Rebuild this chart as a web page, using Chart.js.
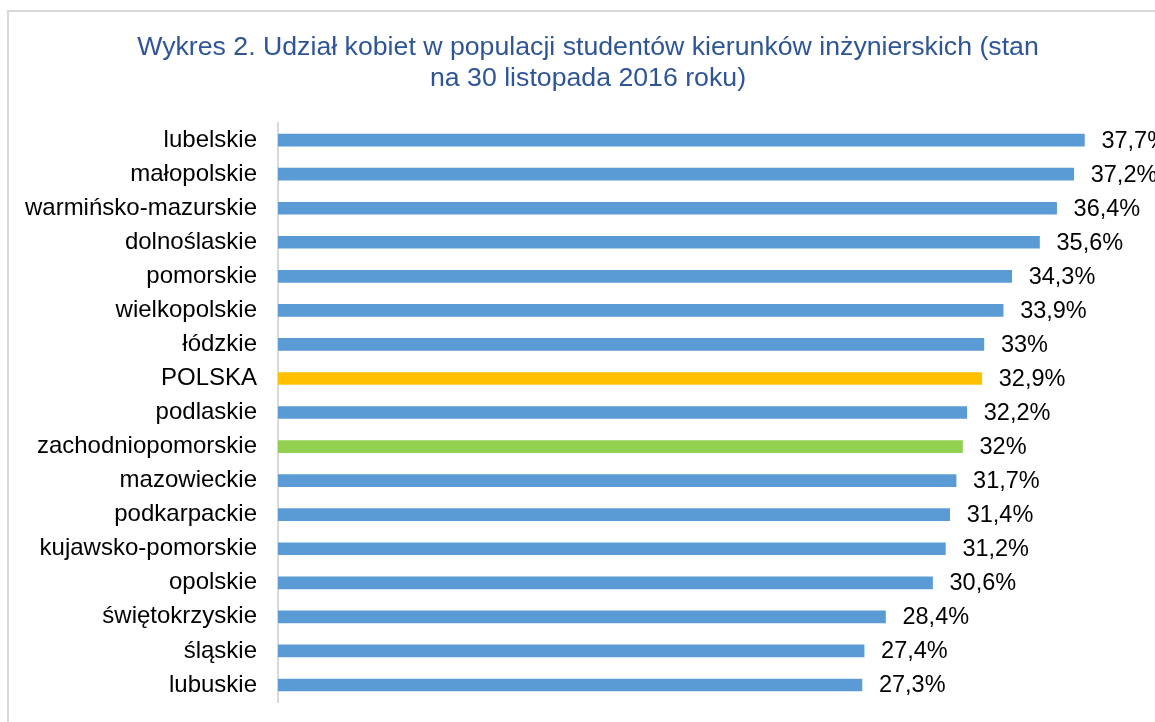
<!DOCTYPE html>
<html>
<head>
<meta charset="utf-8">
<script src="https://cdn.jsdelivr.net/npm/chart.js@4.4.1/dist/chart.umd.min.js"></script>
<style>
  html, body { margin: 0; padding: 0; background: #fff; overflow: hidden; }
  #wrap { position: relative; width: 1155px; height: 722px; }
  #frame { position: absolute; left: 7px; top: 10px; width: 2000px; height: 2000px; border: 2px solid #D9D9D9; box-sizing: border-box; }
  canvas { position: absolute; left: 0; top: 0; }
</style>
</head>
<body>
<div id="wrap">
  <div id="frame"></div>
  <canvas id="c" width="1155" height="722"></canvas>
</div>
<script>
const titleLines = ['Wykres 2. Udział kobiet w populacji studentów kierunków inżynierskich (stan', 'na 30 listopada 2016 roku)'];
const categories = ['lubelskie', 'małopolskie', 'warmińsko-mazurskie', 'dolnoślaskie', 'pomorskie', 'wielkopolskie', 'łódzkie', 'POLSKA', 'podlaskie', 'zachodniopomorskie', 'mazowieckie', 'podkarpackie', 'kujawsko-pomorskie', 'opolskie', 'świętokrzyskie', 'śląskie', 'lubuskie'];
const values = [37.7, 37.2, 36.4, 35.6, 34.3, 33.9, 33, 32.9, 32.2, 32, 31.7, 31.4, 31.2, 30.6, 28.4, 27.4, 27.3];
const colorDefault = '#5B9BD5';
const colorPolska = '#FFC000';
const colorZachodnio = '#92D050';
const barColors = categories.map(c => c === 'POLSKA' ? colorPolska : (c === 'zachodniopomorskie' ? colorZachodnio : colorDefault));

const fmt = v => String(v).replace('.', ',') + '%';

const valueLabels = {
  id: 'valueLabels',
  afterDatasetsDraw(chart) {
    const ctx = chart.ctx;
    const meta = chart.getDatasetMeta(0);
    ctx.save();
    ctx.font = '23.5px "Liberation Sans", Arial, sans-serif';
    ctx.fillStyle = '#000';
    ctx.textAlign = 'left';
    ctx.textBaseline = 'middle';
    meta.data.forEach((bar, i) => {
      ctx.fillText(fmt(values[i]), bar.x + 17, bar.y + 1);
    });
    ctx.restore();
  }
};

new Chart(document.getElementById('c'), {
  type: 'bar',
  data: {
    labels: categories,
    datasets: [{
      data: values,
      backgroundColor: barColors,
      barThickness: 12
    }]
  },
  options: {
    indexAxis: 'y',
    responsive: false,
    animation: false,
    layout: { padding: { top: 0, bottom: 20, right: 0, left: 21 } },
    plugins: {
      legend: { display: false },
      tooltip: { enabled: false },
      title: {
        display: true,
        text: titleLines,
        color: '#2E5597',
        font: { family: '"Liberation Sans", Arial, sans-serif', size: 26.7, weight: 'normal', lineHeight: 1.17 },
        padding: { top: 32, bottom: 28.6 }
      }
    },
    scales: {
      x: {
        display: false,
        min: 0,
        max: 41
      },
      y: {
        afterFit(scale) { scale.width = 257; },
        grid: { display: false, drawTicks: true, tickLength: 21 },
        border: { display: true, color: '#D9D9D9', width: 2 },
        ticks: {
          color: '#000',
          padding: 0,
          font: { family: '"Liberation Sans", Arial, sans-serif', size: 24 }
        }
      }
    }
  },
  plugins: [valueLabels]
});
</script>
</body>
</html>
